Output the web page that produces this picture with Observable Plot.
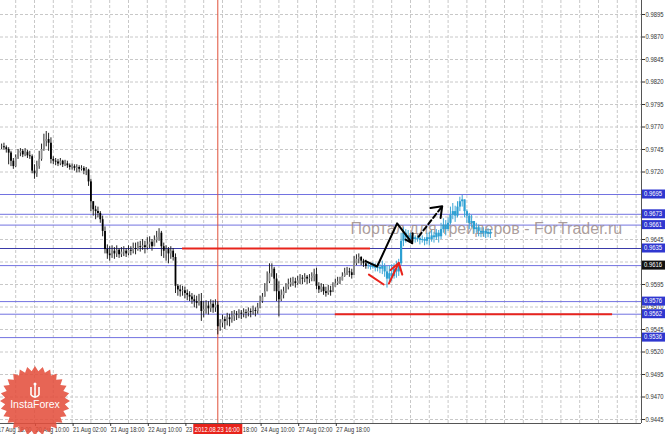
<!DOCTYPE html>
<html><head><meta charset="utf-8">
<script src="https://cdn.jsdelivr.net/npm/d3@7"></script>
<script src="https://cdn.jsdelivr.net/npm/@observablehq/plot@0.6"></script>
<style>
body{margin:0;background:#fff;overflow:hidden}
#chart svg{display:block}
</style>
</head><body><div id="chart"></div>
<script>
// Hour index: 0 = 20 Aug 2012 10:00 (weekend hours skipped)
const histStart = -14;
const histClose = [0.9748,0.9747,0.9745,0.9741,0.9732,0.9726,0.9736,0.9741,0.9743,0.9739,0.9742,0.9738,0.9737,0.9721,
0.9718,0.9726,0.9734,0.9745,0.9754,0.9756,0.9752,0.9734,0.9732,0.9731,
0.9729,0.9732,0.9728,0.9729,0.9727,0.9725,0.9726,0.9724,0.9725,0.9723,
0.9724,0.9721,0.9722,0.9709,0.9687,0.9678,0.9676,0.9674,0.9667,0.9654,
0.9634,0.9629,0.9627,0.9632,0.9629,0.9633,0.9628,0.9631,0.9632,0.9629,
0.9633,0.9632,0.9635,0.9634,0.9637,0.9636,0.9638,0.9636,0.9639,0.9642,
0.9637,0.9644,0.9647,0.9652,0.9637,0.9632,0.9634,0.9629,0.9632,0.9625,
0.9593,0.9589,0.9587,0.9588,0.9585,0.9583,0.9581,0.9578,0.9576,0.9574,
0.9576,0.9565,0.9567,0.9571,0.9568,0.9573,0.9569,0.9572,0.9548,0.9552,
0.9556,0.9554,0.9558,0.9556,0.9559,0.9562,0.9561,0.9563,0.9562,0.9564,
0.9563,0.9565,0.9564,0.9566,0.9565,0.9569,0.9576,0.9581,0.9587,0.9598,
0.9607,0.9612,0.9601,0.9587,0.9578,0.9583,0.9587,0.9592,0.9595,0.9597,
0.9598,0.9596,0.9599,0.9602,0.9601,0.9603,0.9601,0.9602,0.9604,0.9606,
0.9593,0.9589,0.9592,0.9587,0.9585,0.9588,0.9586,0.9592,0.9596,0.9598,
0.9599,0.9604,0.9607,0.9609,0.9608,0.9605,0.9618,0.9623,0.9625,0.9621,
0.9618,0.9615];
const histHigh = [0.9751,0.9752,0.9749,0.9747,0.9743,0.9735,0.9739,0.9745,0.9746,0.9745,0.9746,0.9744,0.9743,0.9739,
0.9728,0.9732,0.9743,0.9751,0.9762,0.9765,0.9763,0.9758,0.9737,0.9735,
0.9734,0.9735,0.9733,0.9733,0.9732,0.9729,0.9729,0.9728,0.9728,0.9727,
0.9727,0.9726,0.9725,0.9723,0.9712,0.9687,0.9682,0.9681,0.9676,0.9671,
0.9659,0.9639,0.9637,0.9638,0.9636,0.9638,0.9635,0.9636,0.9637,0.9635,
0.9638,0.9637,0.9641,0.9641,0.9642,0.9643,0.9645,0.9643,0.9647,0.9648,
0.9645,0.9649,0.9654,0.9657,0.9654,0.9641,0.9638,0.9636,0.9637,0.9635,
0.9629,0.9595,0.9594,0.9593,0.9592,0.9589,0.9587,0.9585,0.9583,0.9582,
0.9584,0.9585,0.9576,0.9577,0.9576,0.9578,0.9577,0.9578,0.9576,0.9556,
0.9561,0.9559,0.9563,0.9562,0.9565,0.9566,0.9565,0.9567,0.9566,0.9568,
0.9567,0.9569,0.9568,0.9571,0.9569,0.9574,0.9582,0.9585,0.9596,0.9609,
0.9618,0.9618,0.9614,0.9607,0.9598,0.9589,0.9592,0.9596,0.9601,0.9602,
0.9603,0.9602,0.9604,0.9606,0.9605,0.9607,0.9605,0.9606,0.9608,0.9612,
0.9613,0.9597,0.9596,0.9595,0.9592,0.9594,0.9593,0.9597,0.9601,0.9603,
0.9603,0.9608,0.9613,0.9614,0.9613,0.9612,0.9626,0.9628,0.9629,0.9626,
0.9623,0.9622];
const histLow = [0.9745,0.9744,0.9741,0.9728,0.9726,0.9723,0.9725,0.9734,0.9737,0.9736,0.9737,0.9735,0.9734,0.9718,
0.9712,0.9714,0.9723,0.9732,0.9743,0.9748,0.9743,0.9729,0.9728,0.9727,
0.9726,0.9727,0.9725,0.9726,0.9724,0.9722,0.9722,0.9721,0.9719,0.9719,
0.9721,0.9717,0.9716,0.9704,0.9676,0.9671,0.9667,0.9669,0.9663,0.9648,
0.9629,0.9623,0.9621,0.9624,0.9623,0.9625,0.9624,0.9625,0.9626,0.9625,
0.9627,0.9627,0.9629,0.9628,0.9632,0.9631,0.9633,0.9629,0.9633,0.9635,
0.9632,0.9638,0.9641,0.9643,0.9626,0.9624,0.9621,0.9618,0.9623,0.9621,
0.9585,0.9582,0.9581,0.9582,0.9579,0.9577,0.9576,0.9573,0.9569,0.9568,
0.9571,0.9554,0.9558,0.9562,0.9561,0.9564,0.9563,0.9564,0.9539,0.9543,
0.9547,0.9545,0.9549,0.9548,0.9552,0.9554,0.9555,0.9557,0.9556,0.9558,
0.9557,0.9559,0.9558,0.9561,0.9559,0.9562,0.9568,0.9574,0.9581,0.9589,
0.9596,0.9603,0.9587,0.9576,0.9559,0.9576,0.9579,0.9585,0.9589,0.9592,
0.9593,0.9591,0.9594,0.9595,0.9595,0.9597,0.9595,0.9596,0.9598,0.9598,
0.9589,0.9585,0.9586,0.9583,0.9581,0.9583,0.9582,0.9587,0.9592,0.9594,
0.9595,0.9599,0.9603,0.9605,0.9603,0.9601,0.9606,0.9616,0.9618,0.9616,
0.9614,0.9612];

// Projected (blue) bars
const projStart = 142;
const projClose = [0.9615,0.9614,0.9616,0.9613,0.9614,0.9612,0.9615,0.9609,0.9601,0.9607,
0.9604,0.9612,0.9609,0.9618,0.9643,0.9652,0.9647,0.9649,0.9645,0.9647,
0.9645,0.9646,0.9644,0.9645,0.9643,0.9647,0.9645,0.9649,0.9647,0.9652,
0.9648,0.9656,0.9661,0.9656,0.9663,0.9672,0.9676,0.9671,0.9681,0.9687,
0.9689,0.9676,0.9671,0.9663,0.9665,0.9656,0.9658,0.9654,0.9652,0.9654,
0.9651,0.9653,0.9651];
const projHigh = [0.9619,0.9618,0.9619,0.9618,0.9618,0.9617,0.9621,0.9618,0.9615,0.9616,
0.9617,0.9618,0.9621,0.9623,0.9652,0.9658,0.9656,0.9655,0.9652,0.9651,
0.9649,0.9649,0.9648,0.9649,0.9647,0.9652,0.9653,0.9655,0.9653,0.9656,
0.9655,0.9663,0.9668,0.9666,0.9669,0.9681,0.9685,0.9682,0.9687,0.9692,
0.9694,0.9687,0.9678,0.9674,0.9672,0.9665,0.9663,0.9661,0.9658,0.9658,
0.9656,0.9657,0.9656];
const projLow = [0.9612,0.9611,0.9612,0.9609,0.9609,0.9607,0.9606,0.9603,0.9591,0.9595,
0.9598,0.9601,0.9602,0.9604,0.9616,0.9637,0.9641,0.9643,0.9641,0.9642,
0.9641,0.9642,0.9639,0.9641,0.9638,0.9639,0.9638,0.9642,0.9641,0.9644,
0.9641,0.9645,0.9652,0.9649,0.9654,0.9661,0.9667,0.9664,0.9669,0.9676,
0.9681,0.9669,0.9663,0.9656,0.9658,0.9651,0.9652,0.9648,0.9647,0.9648,
0.9646,0.9647,0.9646];

// Axis ticks
const yGridTicks = [0.9895,0.9870,0.9845,0.9820,0.9795,0.9770,0.9745,0.9720,0.9695,0.9670,0.9645,0.9620,0.9595,0.9570,0.9545,0.9520,0.9495,0.9470,0.9445];
const yTickLabels = [0.9895,0.9870,0.9845,0.9820,0.9795,0.9770,0.9745,0.9720,0.9645,0.9595,0.9570,0.9545,0.9520,0.9495,0.9470,0.9445];
const xTickHours = [-16,0,16,32,48,64,80,96,112,128];
const xTickLabels = ["17 Aug 18:00","20 Aug 10:00","21 Aug 02:00","21 Aug 18:00","22 Aug 10:00","23 Aug 02:00","23 Aug 18:00","24 Aug 10:00","27 Aug 02:00","27 Aug 18:00"];
const xGridHours = [-8,0,8,16,24,32,40,48,56,64,72,80,88,96,104,112,120,128,136,144,152,160,168,176,184,192,200,208,216,224,232,240,248,256];

// Levels
const blueLevels = [0.9695,0.9673,0.9661,0.9635,0.9616,0.9576,0.9562,0.9536];
const darkLevels = [0.9635];
const levelTagsBlue = [0.9695,0.9673,0.9661,0.9635,0.9576,0.9562,0.9536];
const levelTagsBlack = [0.9616];
const redLevelPrice = [0.9635,0.9562];
const redLevelFrom = [63,128];
const redLevelTo = [143,246];
const cursorHour = 78;
const cursorLabel = "2012.08.23 16:00";
const watermark = "Портал для трейдеров - ForTrader.ru";

// Hand-drawn annotations (hour, price)
const blackPathH = [140.85,145.8,154.3,160.7];
const blackPathP = [0.9621,0.9615,0.9663,0.9641];
const blackHeadH = [157.9,160.7,160.9];
const blackHeadP = [0.9645,0.9641,0.9652];
const dashPathH = [163.4,173.5];
const dashPathP = [0.9648,0.9682];
const dashHeadH = [168.5,173.5,172.8];
const dashHeadP = [0.9680,0.9682,0.9669];
const redDownH = [142.3,148.6];
const redDownP = [0.9606,0.9595];
const redUpH = [150.8,155.0,156.5];
const redUpP = [0.9596,0.9619,0.9606];
const redHeadH = [151.5,155.0];
const redHeadP = [0.9611,0.9619];

function bars(start, close, high, low, prev) {
  return close.map((c, i) => {
    const o = i ? close[i - 1] : (prev ?? c);
    return {h: start + i, o, c, hi: Math.max(high[i], o, c), lo: Math.min(low[i], o, c)};
  });
}
const hist = bars(histStart, histClose, histHigh, histLow);
const proj = bars(projStart, projClose, projHigh, projLow, histClose[histClose.length - 1]);
const pts = (H, P) => H.map((h, i) => ({h, p: P[i]}));
const redLevels = redLevelPrice.map((p, i) => ({p, a: redLevelFrom[i], b: redLevelTo[i]}));

const FONT = "'Liberation Sans',Arial,sans-serif";
const X0 = -14.468, X1 = 258.298, Y0 = 0.944056, Y1 = 0.991056;

const plot = Plot.plot({
  width: 665, height: 434,
  marginLeft: 0, marginRight: 24, marginTop: 0, marginBottom: 11,
  x: {domain: [X0, X1]},
  y: {domain: [Y0, Y1]},
  style: {fontFamily: FONT, fontSize: "7px", background: "#fff", color: "#222"},
  marks: [
    Plot.ruleX(xGridHours, {stroke: "#c8c8c8", strokeDasharray: "3,2"}),
    Plot.ruleY(yGridTicks, {stroke: "#c8c8c8", strokeDasharray: "3,2"}),
    Plot.ruleY(blueLevels, {stroke: "#7272e0", strokeWidth: 1}),
    Plot.ruleY(darkLevels, {stroke: "#3a3aa8", strokeWidth: 1}),
    Plot.text([watermark], {x: 134.5, y: 0.96567, text: d => d, textAnchor: "start", lineAnchor: "middle",
      fontSize: 16, fontFamily: FONT, fill: "#9c8c8a", fillOpacity: 0.85}),
    Plot.ruleX([cursorHour], {stroke: "#e0503a", strokeWidth: 1}),
    Plot.ruleY(redLevels, {y: "p", x1: "a", x2: "b", stroke: "#e8241c", strokeWidth: 2}),
    Plot.ruleX(hist, {x: "h", y1: "lo", y2: "hi", stroke: "#222", strokeWidth: 1}),
    Plot.ruleX(hist, {x: "h", y1: "o", y2: d => d.c === d.o ? d.c + 0.00005 : d.c, stroke: d => d.c < d.o ? "#000" : "#8c8c8c", strokeWidth: 1.8}),
    Plot.ruleX(proj, {x: "h", y1: "lo", y2: "hi", stroke: "#3aa6d6", strokeWidth: 1}),
    Plot.ruleX(proj, {x: "h", y1: "o", y2: d => d.c === d.o ? d.c + 0.00005 : d.c, stroke: "#2c9fd2", strokeWidth: 2.2}),
    Plot.line(pts(blackPathH, blackPathP), {x: "h", y: "p", stroke: "#000", strokeWidth: 2}),
    Plot.line(pts(blackHeadH, blackHeadP), {x: "h", y: "p", stroke: "#000", strokeWidth: 2}),
    Plot.line(pts(dashPathH, dashPathP), {x: "h", y: "p", stroke: "#000", strokeWidth: 2, strokeDasharray: "5,3"}),
    Plot.line(pts(dashHeadH, dashHeadP), {x: "h", y: "p", stroke: "#000", strokeWidth: 2}),
    Plot.line(pts(redDownH, redDownP), {x: "h", y: "p", stroke: "#e8241c", strokeWidth: 2}),
    Plot.line(pts(redUpH, redUpP), {x: "h", y: "p", stroke: "#e8241c", strokeWidth: 2}),
    Plot.line(pts(redHeadH, redHeadP), {x: "h", y: "p", stroke: "#e8241c", strokeWidth: 2}),
    Plot.ruleX([X1], {stroke: "#555"}),
    Plot.ruleY([Y0], {stroke: "#555"}),
    Plot.axisY(yTickLabels, {anchor: "right", tickSize: 3, tickPadding: 1, tickFormat: d3.format(".4f"), fontSize: 6.5, color: "#333", label: null}),
    Plot.axisX(xTickHours, {anchor: "bottom", tickSize: 3, tickPadding: 1, textAnchor: "start", dx: 1,
      tickFormat: d => xTickLabels[xTickHours.indexOf(d)], fontSize: 7, color: "#333", label: null})
  ]
});

const svg = d3.select(plot);
const ys = plot.scale("y"), xs = plot.scale("x");
// squeeze tick labels to the narrow terminal font widths
svg.selectAll('g[aria-label="y-axis tick label"] text').each(function () {
  d3.select(this).attr("textLength", this.textContent.length * 3).attr("lengthAdjust", "spacingAndGlyphs");
});
svg.selectAll('g[aria-label="x-axis tick label"] text').each(function () {
  d3.select(this).attr("textLength", this.textContent.length * 2.8).attr("lengthAdjust", "spacingAndGlyphs");
});
function tag(v, fill) {
  const y = ys.apply(v);
  svg.append("rect").attr("x", 642).attr("y", y - 4.5).attr("width", 24).attr("height", 9).attr("fill", fill);
  svg.append("text").attr("x", 644).attr("y", y).attr("dy", "0.35em").attr("fill", "#fff").attr("text-anchor", "start")
    .attr("font-size", 6.5).attr("font-family", FONT).attr("textLength", 18).attr("lengthAdjust", "spacingAndGlyphs")
    .text(d3.format(".4f")(v));
}
levelTagsBlue.forEach(v => tag(v, "#2f37d0"));
levelTagsBlack.forEach(v => tag(v, "#111"));
{
  const cx = xs.apply(cursorHour);
  svg.append("rect").attr("x", cx - 24).attr("y", 424).attr("width", 49).attr("height", 10).attr("fill", "#e8231b");
  svg.append("text").attr("x", cx).attr("y", 429.5).attr("dy", "0.35em").attr("text-anchor", "middle").attr("fill", "#fff")
    .attr("font-size", 7).attr("font-family", FONT).attr("textLength", 45).attr("lengthAdjust", "spacingAndGlyphs").text(cursorLabel);
}
// InstaForex badge (decoration)
{
  const g = svg.append("g").attr("transform", "translate(35,401)").attr("opacity", 0.88);
  const n = 28, pts2 = [];
  for (let i = 0; i < n * 2; i++) {
    const r = i % 2 ? 30 : 35, a = Math.PI * i / n;
    pts2.push([r * Math.cos(a), r * Math.sin(a)]);
  }
  g.append("path").attr("d", "M" + pts2.join("L") + "Z").attr("fill", "#e4503e");
  g.append("path").attr("d", "M-4,-14 L-4,-6 M0,-16 L0,-3 M4,-14 L4,-6 M-4,-6 Q0,-2 4,-6").attr("stroke", "#fff").attr("stroke-width", 1.6).attr("fill", "none");
  g.append("circle").attr("cx", 0).attr("cy", -17).attr("r", 1.5).attr("fill", "#fff");
  g.append("text").attr("x", 0).attr("y", 7).attr("text-anchor", "middle").attr("fill", "#fff")
    .attr("font-size", 10.5).attr("font-family", FONT).text("InstaForex");
}
document.getElementById("chart").appendChild(plot);
</script>
</body></html>
